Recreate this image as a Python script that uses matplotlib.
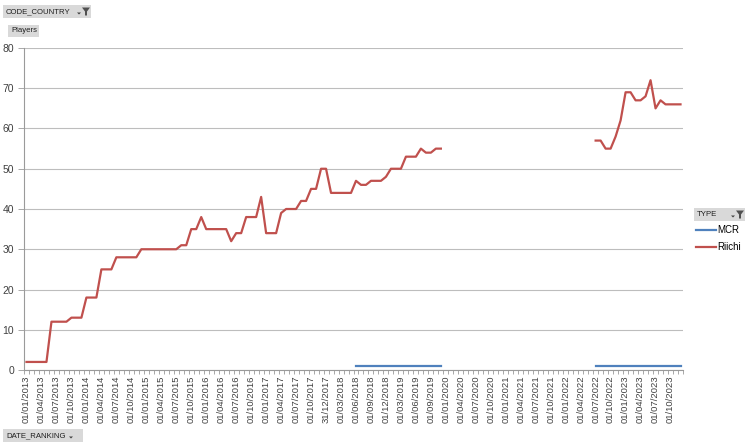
import numpy as np
import pandas as pd
import matplotlib
matplotlib.use('Agg')
import matplotlib.pyplot as plt
from matplotlib.patches import Rectangle, Polygon

plt.rcParams['font.family'] = ['Liberation Sans', 'DejaVu Sans']

# category labels (monthly, as in the pivot table)
def months(start, end):
    return [d.strftime('%d/%m/%Y') for d in pd.date_range(start, end, freq='MS')]

dates = (months('2013-01-01', '2017-12-01') + ['31/12/2017']
         + months('2018-01-01', '2019-11-01') + months('2020-01-01', '2023-12-01'))

# Riichi players, first block (01/01/2013 .. 2019) and last block (07/2022 .. 12/2023)
riichi_a = [2, 2, 2, 2, 2, 12, 12, 12, 12, 13, 13, 13, 18, 18, 18, 25, 25, 25,
            28, 28, 28, 28, 28, 30, 30, 30, 30, 30, 30, 30, 30, 31, 31, 35, 35,
            38, 35, 35, 35, 35, 35, 32, 34, 34, 38, 38, 38, 43, 34, 34, 34, 39,
            40, 40, 40, 42, 42, 45, 45, 50, 50, 44, 44, 44, 44, 44, 47, 46, 46,
            47, 47, 47, 48, 50, 50, 50, 53, 53, 53, 55, 54, 54, 55, 55]
riichi_b = [57, 57, 55, 55, 58, 62, 69, 69, 67, 67, 68, 72, 65, 67, 66, 66, 66, 66]
gap = 30

# MCR players
mcr_a = [np.nan] * 66 + [1] * 18
mcr_b = [1] * 18

riichi = np.array(riichi_a + [np.nan] * gap + riichi_b, dtype=float)
mcr = np.array(mcr_a + [np.nan] * gap + mcr_b, dtype=float)
x = np.arange(len(dates))

fig = plt.figure(figsize=(7.5, 4.48), dpi=100)
W, H = 750, 448
ax = fig.add_axes([24 / W, 1 - 370 / H, (683 - 24) / W, (370 - 48) / H])

ax.plot(x, mcr, color='#4F81BD', lw=1.6, label='MCR', solid_joinstyle='round')
ax.plot(x, riichi, color='#C0504D', lw=1.6, label='Riichi', solid_joinstyle='round')

ax.set_xlim(-0.5, len(dates) - 0.5)
ax.set_ylim(0, 80)
ax.set_yticks(range(0, 81, 10))
ax.yaxis.grid(True, color='#BDBDBD', lw=0.8)
ax.set_axisbelow(True)

ax.set_xticks(x[::3])
ax.set_xticklabels(dates[::3], rotation=90, fontsize=6.8, color='#404040')
ax.set_xticks(np.arange(-0.5, len(dates), 1), minor=True)
ax.tick_params(axis='x', which='major', length=0, pad=4)
ax.tick_params(axis='x', which='minor', length=3, color='#9A9A9A', width=0.6)
ax.tick_params(axis='y', length=4, color='#9A9A9A', width=0.6, labelsize=7.5,
               labelcolor='#404040', pad=3)

for s in ['top', 'right']:
    ax.spines[s].set_visible(False)
for s in ['left', 'bottom']:
    ax.spines[s].set_color('#9A9A9A')
    ax.spines[s].set_linewidth(0.8)

ax.legend(loc='upper left', bbox_to_anchor=(694 / W, 1 - 223 / H),
          bbox_transform=fig.transFigure, frameon=False, fontsize=7,
          handlelength=2.1, handletextpad=0.1, labelspacing=0.75,
          borderaxespad=0, borderpad=0.2)


def button(x0, y0, w, h, text, icon=None):
    fig.patches.append(Rectangle((x0 / W, 1 - (y0 + h) / H), w / W, h / H,
                                 transform=fig.transFigure, facecolor='#D9D9D9',
                                 edgecolor='none'))
    fig.text((x0 + 3) / W, 1 - (y0 + h / 2) / H, text, fontsize=5.6,
             va='center', ha='left', color='#202020')
    if icon:
        ix = x0 + w - 13
        cy = y0 + h / 2
        # small dropdown arrow
        fig.patches.append(Polygon([((ix - 1) / W, 1 - (cy + 1) / H),
                                    ((ix + 3) / W, 1 - (cy + 1) / H),
                                    ((ix + 1) / W, 1 - (cy + 3) / H)],
                                   closed=True, transform=fig.transFigure,
                                   facecolor='#404040', edgecolor='none'))
        if icon == 'filter':
            fx = ix + 4
            fig.patches.append(Polygon([(fx / W, 1 - (cy - 4) / H),
                                        ((fx + 8) / W, 1 - (cy - 4) / H),
                                        ((fx + 5) / W, 1 - cy / H),
                                        ((fx + 5) / W, 1 - (cy + 4) / H),
                                        ((fx + 3) / W, 1 - (cy + 4) / H),
                                        ((fx + 3) / W, 1 - cy / H)],
                                       closed=True, transform=fig.transFigure,
                                       facecolor='#505050', edgecolor='none'))


button(3, 5, 88, 13, 'CODE_COUNTRY', 'filter')
button(8, 25, 31, 12, 'Players')
button(3, 429, 80, 13, 'DATE_RANKING', 'arrow')
button(694, 208, 51, 13, 'TYPE', 'filter')

fig.savefig('out.png', dpi=100)
